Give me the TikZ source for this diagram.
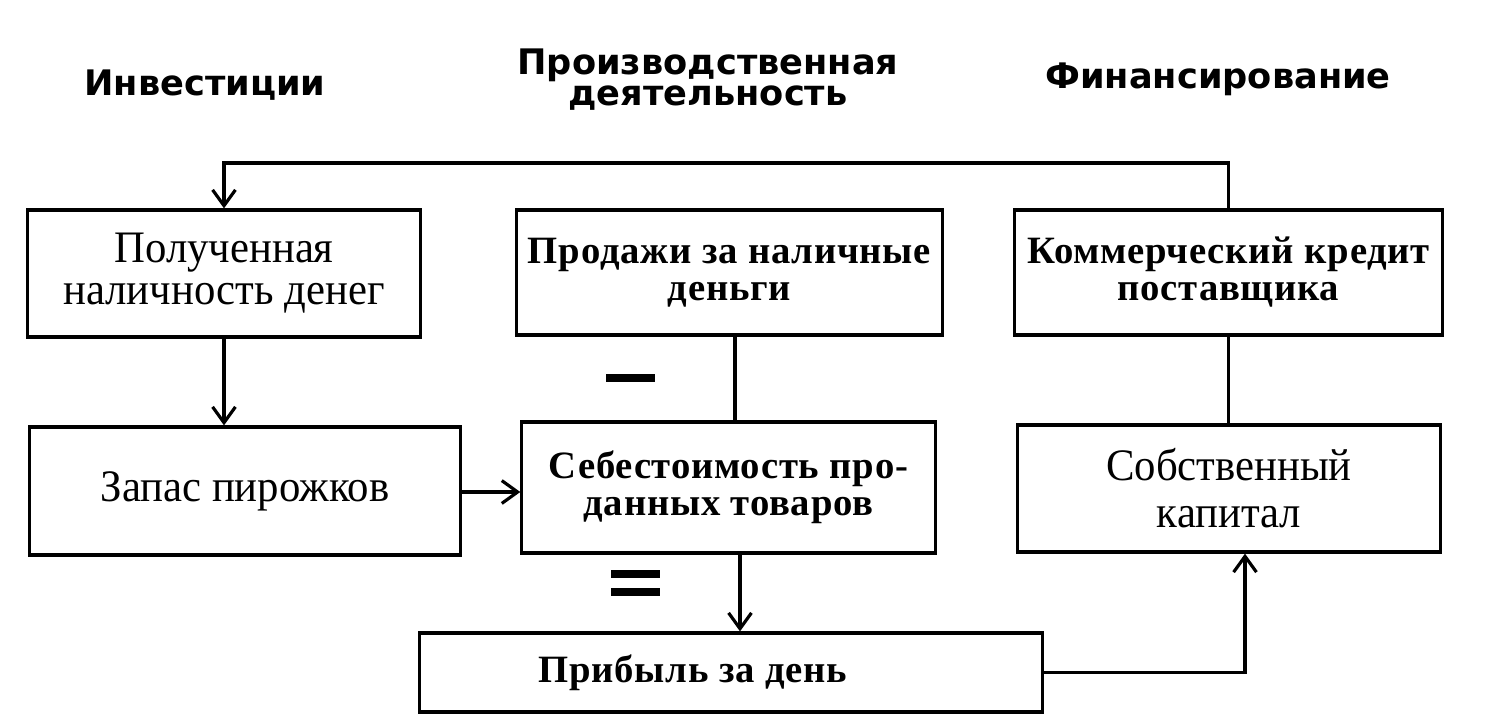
\documentclass[tikz,border=0pt]{standalone}
\usepackage{fontspec}
\setmainfont{Liberation Serif}
\newfontfamily\headfont{DejaVu Sans}
\newfontfamily\wideserif[LetterSpace=2]{Liberation Serif}
\newfontfamily\narrowserif[FakeStretch=0.95]{Liberation Serif}
\usetikzlibrary{arrows.meta, positioning}

\begin{document}
\begin{tikzpicture}[x=0.01cm, y=-0.01cm, line width=0.9pt,
    >={Straight Barb[length=4.5pt, width=6.5pt]},
    blok/.style={draw, inner sep=0pt, align=center},
    nadpis/.style={font=\headfont\bfseries\fontsize{10}{8.8}\selectfont, align=center},
    tekst/.style={font=\narrowserif\fontsize{12.8}{#1}\selectfont},
    tekst/.default=13.4,
    tekstb/.style={font=\wideserif\bfseries\fontsize{11}{10.5}\selectfont}]
  \useasboundingbox (0,0) rectangle (1494,715);

  % Заголовки
  \node[nadpis, anchor=base] (hinv) at (205,95) {Инвестиции};
  \node[nadpis] (hprod) at (708,80) {Производственная\\деятельность};
  \node[nadpis, anchor=base] (hfin) at (1218,88) {Финансирование};

  % Верхний ряд
  \node[blok, tekst=12, minimum width=3.92cm, minimum height=1.27cm] (cash) at (224,273.5)
    {Полученная\\наличность денег};
  \node[blok, tekstb, minimum width=4.25cm, minimum height=1.25cm] (sales) at (729.5,272.5)
    {Продажи за наличные\\деньги};
  \node[blok, tekstb, minimum width=4.27cm, minimum height=1.25cm] (credit) at (1228.5,272.5)
    {Коммерческий кредит\\поставщика};

  % Средний ряд
  \node[blok, tekst, minimum width=4.30cm, minimum height=1.28cm] (stock) at (245,491)
    {Запас пирожков};
  \node[blok, tekstb, minimum width=4.13cm, minimum height=1.31cm] (cost) at (728.5,487.5)
    {Себестоимость про-\\данных товаров};
  \node[blok, tekst, minimum width=4.22cm, minimum height=1.27cm] (equity) at (1229,488.5)
    {Собственный\\капитал};

  % Нижний ряд
  \node[blok, tekstb, minimum width=6.22cm, minimum height=0.79cm] (profit) at (731,672.5)
    {\hbox{Прибыль за день\hspace{0.76cm}}};

  % Связи
  \coordinate (top) at (1228.5,163);
  \draw[->] (credit.north) -- (top) -| (cash.north);
  \draw[->] (cash.south) -- (cash.south |- stock.north);
  \draw[->] ([yshift=-0.01cm]stock.east) -- ([yshift=-0.01cm]stock.east -| cost.west);
  \draw ([xshift=0.055cm]sales.south) -- ([xshift=0.055cm]sales.south |- cost.north);
  \draw[->] ([xshift=0.115cm]cost.south) -- ([xshift=0.115cm]cost.south |- profit.north);
  \draw[->] (profit.east) -| ([xshift=0.16cm]equity.south);
  \draw (credit.south) -- (credit.south |- equity.north);

  % Знаки
  \fill (606,374) rectangle (655,382);
  \fill (611,570) rectangle (660,578);
  \fill (611,588) rectangle (660,596);
\end{tikzpicture}
\end{document}
